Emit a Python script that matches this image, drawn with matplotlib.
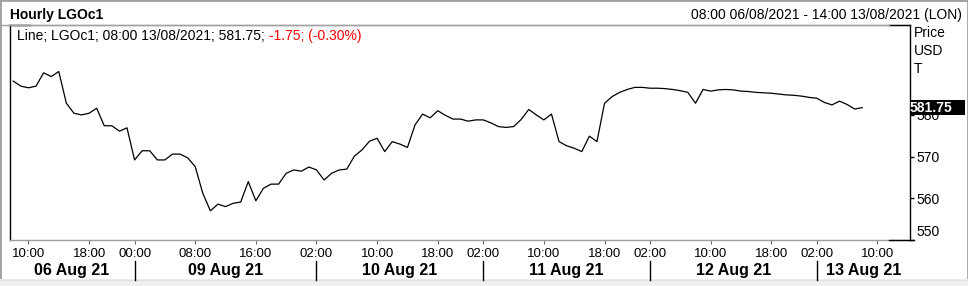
import matplotlib
matplotlib.use('Agg')
import matplotlib.pyplot as plt
import matplotlib.transforms as mtransforms
from matplotlib.lines import Line2D
from matplotlib.patches import Rectangle

plt.rcParams['font.family'] = ['Liberation Sans', 'DejaVu Sans']

W, H = 968, 286

# Hourly closes, 08:00 06/08/2021 .. 08:00 13/08/2021 (trading hours only)
prices = [
    588.1, 586.9, 586.5, 586.9, 590.1, 589.2, 590.4, 582.8, 580.4, 580.0,
    580.4, 581.6, 577.4, 577.4, 576.1, 576.9, 569.2, 571.4, 571.4, 569.2,
    569.2, 570.6, 570.6, 569.7, 567.6, 561.2, 557.0, 558.6, 558.0, 558.8,
    559.1, 564.0, 559.4, 562.4, 563.4, 563.4, 566.0, 566.8, 566.5, 567.5,
    566.8, 564.4, 566.0, 566.8, 567.0, 570.1, 571.6, 573.7, 574.4, 571.2,
    573.6, 573.0, 572.2, 577.6, 580.2, 579.3, 581.0, 579.9, 579.0, 579.0,
    578.5, 578.8, 578.8, 578.1, 577.2, 577.0, 577.2, 578.9, 581.3, 580.0,
    578.8, 580.2, 573.6, 572.6, 572.0, 571.2, 574.9, 573.6, 582.8, 584.4,
    585.4, 586.1, 586.6, 586.6, 586.4, 586.4, 586.3, 586.1, 585.8, 585.4,
    582.8, 586.1, 585.7, 586.0, 586.1, 586.0, 585.7, 585.6, 585.4, 585.3,
    585.2, 585.0, 584.8, 584.7, 584.5, 584.2, 584.0, 583.0, 582.4, 583.3,
    582.5, 581.4, 581.75,
]
bar_index = list(range(len(prices)))

tick_pos = [2, 10, 16, 24, 32, 40, 48, 56, 62, 70, 78, 84, 92, 100, 106, 114]
tick_labels = ['10:00', '18:00', '00:00', '08:00', '16:00', '02:00', '10:00', '18:00',
               '02:00', '10:00', '18:00', '02:00', '10:00', '18:00', '02:00', '10:00']
day_labels = ['06 Aug 21', '09 Aug 21', '10 Aug 21', '11 Aug 21', '12 Aug 21', '13 Aug 21']
day_starts = [16, 40, 62, 84, 106]
y_ticks = [550, 560, 570, 580]
last_price = 581.75
change_text = '-1.75; (-0.30%)'

fig = plt.figure(figsize=(W / 100, H / 100), dpi=100)
fig.patch.set_facecolor('white')


def fx(x):
    return x / W


def fy(y):
    return 1 - y / H


# frame elements
fig.add_artist(Rectangle((0, 0), 1, 1, transform=fig.transFigure, fc='none',
                         ec='#a0a0a0', lw=2))
fig.add_artist(Rectangle((0, 0), 1, 7 / H, transform=fig.transFigure, fc='#f0f0f0',
                         ec='none'))
fig.add_artist(Line2D([0, 1], [fy(279.5), fy(279.5)], transform=fig.transFigure,
                      color='#e0e0e0', lw=1))

ax = fig.add_axes([fx(9.5), fy(240), fx(910) - fx(9.5), fy(25) - fy(240)])
ax.set_xlim(-0.5, 118.3)
ax.set_ylim(550, 601.56)
ax.plot(bar_index, prices, color='black', lw=0.9)

for s in ['left', 'right']:
    ax.spines[s].set_color('black')
    ax.spines[s].set_linewidth(1)
for s in ['top', 'bottom']:
    ax.spines[s].set_color('#a0a0a0')
    ax.spines[s].set_linewidth(1)

# black corner segments
for (x0, x1, y) in [(9, 30, 25), (889, 910, 25), (889, 914, 240)]:
    fig.add_artist(Line2D([fx(x0), fx(x1)], [fy(y), fy(y)], transform=fig.transFigure,
                          color='black', lw=1))
fig.add_artist(Line2D([0, fx(889)], [fy(25), fy(25)], transform=fig.transFigure,
                      color='#a0a0a0', lw=1))

# y axis on right
ax.yaxis.tick_right()
ax.set_yticks(y_ticks)
ax.set_yticklabels(['' if v == 550 else str(v) for v in y_ticks])
ax.tick_params(axis='y', length=3, width=1, color='black', labelsize=10, pad=1.5)
yblend = mtransforms.blended_transform_factory(fig.transFigure, ax.transData)
ax.text(fx(916), 550, '550', transform=yblend + mtransforms.ScaledTranslation(0, 8 / 100, fig.dpi_scale_trans),
        ha='left', va='center', fontsize=10)

# x axis
ax.set_xticks(tick_pos)
ax.set_xticklabels(tick_labels)
ax.tick_params(axis='x', length=3, width=0.8, color='#666666', labelsize=9.5, pad=3)

# day labels & separators
xblend = mtransforms.blended_transform_factory(ax.transData, fig.transFigure)
bounds = [ax.get_xlim()[0]] + day_starts + [ax.get_xlim()[1]]
for i, lab in enumerate(day_labels):
    mid = (bounds[i] + bounds[i + 1]) / 2
    ax.text(mid, fy(270.5), lab, transform=xblend, ha='center', va='center',
            fontsize=11.5, fontweight='bold', clip_on=False)
for d in day_starts:
    fig.add_artist(Line2D([d, d], [fy(261), fy(280)], transform=xblend, color='black', lw=1))

# last price box
ax.add_artist(Rectangle((fx(910), last_price - 7.5 / 4.17), fx(965) - fx(910), 15 / 4.17,
                        transform=yblend, fc='black', ec='none', clip_on=False, zorder=5))
ax.text(fx(910), last_price, f'{last_price:.2f}', transform=yblend, ha='left', va='center',
        color='white', fontsize=10, fontweight='bold', zorder=6, clip_on=False)

# header
fig.text(fx(10), fy(15), 'Hourly LGOc1', ha='left', va='center', fontsize=10, fontweight='bold')
fig.text(fx(962), fy(15), '08:00 06/08/2021 - 14:00 13/08/2021 (LON)', ha='right', va='center',
         fontsize=10)
for lab, y in [('Price', 33), ('USD', 51), ('T', 69)]:
    fig.text(fx(914), fy(y), lab, ha='left', va='center', fontsize=10)

# legend line
t1 = fig.text(fx(17), fy(36), f'Line; LGOc1; 08:00 13/08/2021; {last_price:.2f}; ', ha='left',
              va='center', fontsize=10)
r = fig.canvas.get_renderer()
bb = t1.get_window_extent(renderer=r)
fig.text(bb.x1 / W, fy(36), change_text, ha='left', va='center', fontsize=10, color='#ff0000')

fig.savefig('out.png', dpi=100)
